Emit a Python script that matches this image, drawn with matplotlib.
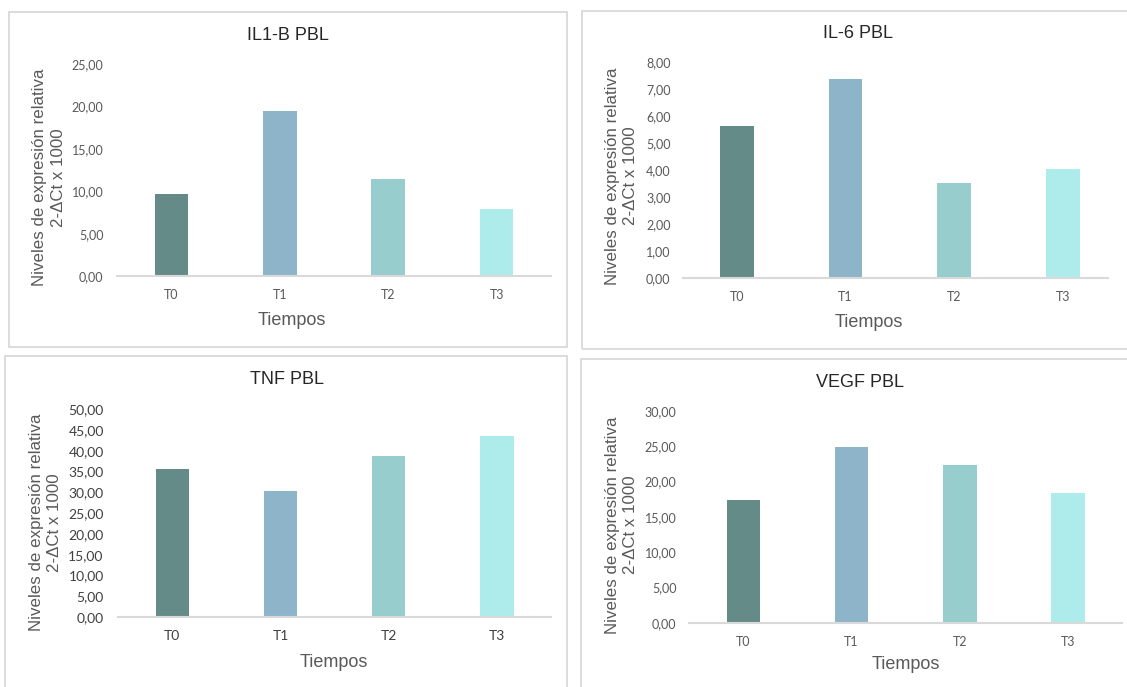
import matplotlib
matplotlib.use("Agg")
import matplotlib.pyplot as plt
from matplotlib.patches import Rectangle
from matplotlib.ticker import FuncFormatter, MultipleLocator

# Data
tiempos = ["T0", "T1", "T2", "T3"]
il1b = [9.64, 19.52, 11.45, 7.87]
il6 = [5.63, 7.38, 3.54, 4.06]
tnf = [35.6, 30.2, 38.6, 43.5]
vegf = [17.35, 24.9, 22.4, 18.4]

titles = ["IL1-B PBL", "IL-6 PBL", "TNF PBL", "VEGF PBL"]
bar_colors = ["#658B88", "#8EB4CA", "#97CDCD", "#AEECEC"]

W, H = 1127, 687
fig = plt.figure(figsize=(W / 100, H / 100), dpi=100)
fig.patch.set_facecolor("white")


def fx(x):
    return x / W


def fy(y):
    return 1 - y / H


def frame(x0, y0, x1, y1):
    fig.patches.append(Rectangle((fx(x0), fy(y1)), fx(x1) - fx(x0), fy(y0) - fy(y1),
                                 transform=fig.transFigure, fill=False,
                                 edgecolor="#D9D9D9", linewidth=1.3, zorder=0))


comma = FuncFormatter(lambda v, _: f"{v:.2f}".replace(".", ","))

# panel layout in pixels: axes box, y range, frame, text anchors
panels = [
    dict(vals=il1b, box=(117.1, 64.3, 550.9, 276.0), ymax=25, step=5, xlim=(-0.5, 3.5),
         frame=(8.5, 12, 567, 347), title=(287.5, 35), xlab=(291.7, 320.7),
         ylab=(40, 58.2, 177.5), tsize=9, tcolor="#595959", ypad=13.5),
    dict(vals=il6, box=(683.0, 62.3, 1108.2, 278.3), ymax=8, step=1, xlim=(-0.495, 3.417),
         frame=(581.7, 10.5, 1140, 349), title=(857.7, 33.3), xlab=(868.4, 322.7),
         ylab=(612.6, 630.4, 175.8), tsize=9, tcolor="#595959", ypad=12.5),
    dict(vals=tnf, box=(118.2, 409.0, 550.9, 617.3), ymax=50, step=5, xlim=(-0.5, 3.5),
         frame=(5, 356.5, 567, 700), title=(286.5, 379.3), xlab=(334, 662.7),
         ylab=(36.4, 54.5, 522.5), tsize=10, tcolor="#404040", ypad=14.5),
    dict(vals=vegf, box=(689.4, 411.0, 1122.0, 622.7), ymax=30, step=5, xlim=(-0.5, 3.5),
         frame=(581, 359.3, 1140, 700), title=(859.5, 382.3), xlab=(905.7, 664.3),
         ylab=(612.6, 630.4, 525), tsize=9, tcolor="#595959", ypad=12.8),
]

for p, title in zip(panels, titles):
    frame(*p["frame"])
    x0, y0, x1, y1 = p["box"]
    ax = fig.add_axes([fx(x0), fy(y1), fx(x1) - fx(x0), fy(y0) - fy(y1)])
    ax.set_facecolor("none")
    ax.bar(range(len(tiempos)), p["vals"], width=0.31, color=bar_colors, zorder=2)
    ax.set_xlim(*p["xlim"])
    ax.set_ylim(0, p["ymax"])
    ax.yaxis.set_major_locator(MultipleLocator(p["step"]))
    ax.yaxis.set_major_formatter(comma)
    ax.set_xticks(range(len(tiempos)))
    ax.set_xticklabels(tiempos)
    for s in ("top", "right", "left"):
        ax.spines[s].set_visible(False)
    ax.spines["bottom"].set_color("#D9D9D9")
    ax.spines["bottom"].set_linewidth(1.5)
    ax.spines["bottom"].set_zorder(3)
    ax.tick_params(axis="y", length=0, pad=p["ypad"] * 0.72,
                   labelsize=p["tsize"], labelcolor=p["tcolor"])
    ax.tick_params(axis="x", length=0, pad=9.5,
                   labelsize=p["tsize"], labelcolor=p["tcolor"])
    for lab in ax.get_xticklabels() + ax.get_yticklabels():
        lab.set_fontfamily("Lato")

    fig.text(fx(p["title"][0]), fy(p["title"][1]), title, ha="center", va="center",
             fontsize=13, color="#262626", family="Liberation Sans")
    fig.text(fx(p["xlab"][0]), fy(p["xlab"][1]), "Tiempos", ha="center", va="center",
             fontsize=13, color="#595959", family="Liberation Sans")
    lx1, lx2, ly = p["ylab"]
    fig.text(fx(lx1), fy(ly), "Niveles de expresión relativa", rotation=90,
             ha="center", va="center", fontsize=12.2, color="#595959",
             family="Liberation Sans")
    fig.text(fx(lx2), fy(ly), "2-ΔCt x 1000", rotation=90,
             ha="center", va="center", fontsize=12.2, color="#595959",
             family="Liberation Sans")

fig.savefig("out.png", dpi=100, facecolor="white")
